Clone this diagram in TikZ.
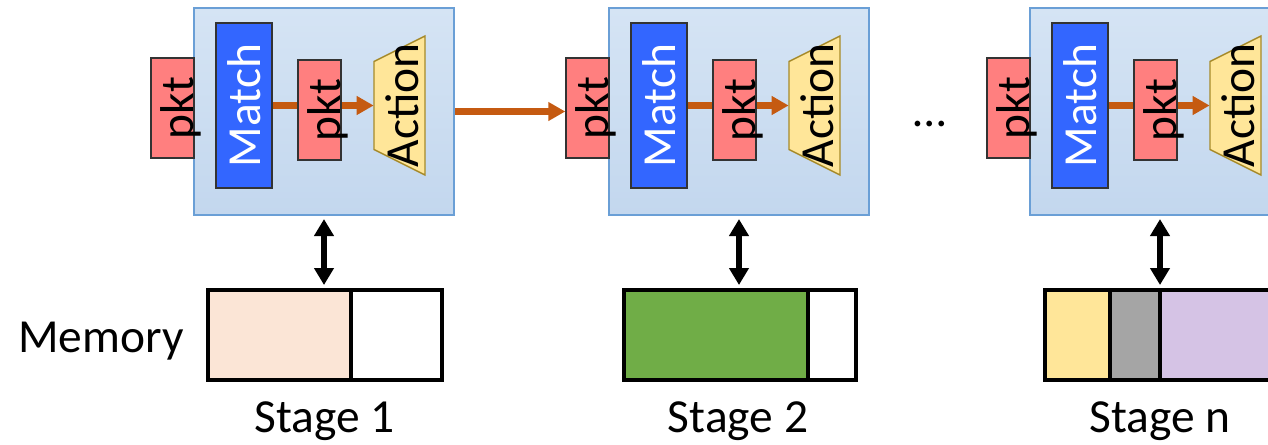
\documentclass[tikz,border=0pt]{standalone}
\usepackage{fontspec}
\setmainfont{Carlito}
\usetikzlibrary{arrows.meta, positioning, calc}
\definecolor{boxtop}{HTML}{D5E4F4}
\definecolor{boxbot}{HTML}{C3D7EE}
\definecolor{stageline}{HTML}{6A9FD6}
\definecolor{darkline}{HTML}{333333}
\definecolor{pktred}{HTML}{FF7F7F}
\definecolor{matchblue}{HTML}{3366FF}
\definecolor{actyellow}{HTML}{FFE699}
\definecolor{actline}{HTML}{A68A2A}
\definecolor{floworange}{HTML}{C55A11}
\definecolor{peach}{HTML}{FBE5D6}
\definecolor{memgreen}{HTML}{70AD47}
\definecolor{memgray}{HTML}{A5A5A5}
\definecolor{memlilac}{HTML}{D5C3E5}
\newcommand{\vtag}[2][0pt]{\makebox[0pt]{\hspace{#1}\rotatebox{90}{#2}}}

\begin{document}
\begin{tikzpicture}[
    font=\fontsize{27}{32}\selectfont,
    stagebox/.style={rectangle, draw=stageline, line width=1.2pt, top color=boxtop,
                     bottom color=boxbot, minimum width=5.2cm, minimum height=4.14cm},
    pktbox/.style={rectangle, draw=darkline, line width=0.8pt, fill=pktred,
                   minimum width=0.86cm, minimum height=2cm, inner sep=0pt},
    matchbox/.style={rectangle, draw=darkline, line width=0.8pt, fill=matchblue, text=white,
                     minimum width=1.12cm, minimum height=3.3cm, inner sep=0pt},
    actshape/.style={draw=actline, line width=0.8pt, fill=actyellow},
    acttext/.style={rectangle, minimum width=1.02cm, minimum height=1.76cm, inner sep=0pt},
    flow/.style={-{Triangle[length=0.34cm, width=0.36cm]}, line width=3.5pt, color=floworange},
    access/.style={{Triangle[length=0.34cm, width=0.38cm]}-{Triangle[length=0.34cm, width=0.38cm]},
                   line width=3.6pt, shorten <=0.06cm, shorten >=0.1cm},
    memcell/.style={rectangle, draw, line width=2.4pt, minimum height=1.8cm,
                    outer sep=0pt, inner sep=0pt},
    stagelabel/.style={anchor=base, inner sep=0pt}
]
\useasboundingbox (0,0) rectangle (25.36,-8.88);
\clip (0,0) rectangle (25.36,-8.88);

% stage 1
\node[stagebox] (box1) at (6.48,-2.23) {};
\node[pktbox] (in1) at (3.45,-2.16) {\vtag[0.34cm]{pkt}};
\node[matchbox] (match1) at (4.88,-2.11) {\vtag{Match}};
\coordinate (act1c) at (7.99,-2.11);
\draw[actshape] ($(act1c)+(-0.51,-0.88)$) -- ($(act1c)+(-0.51,0.88)$)
    -- ($(act1c)+(0.51,1.39)$) -- ($(act1c)+(0.51,-1.39)$) -- cycle;
\node[acttext] (act1) at (act1c) {\vtag[0.12cm]{Action}};
\draw[flow] (match1) -- (act1);
\node[pktbox] (pkt1) at (6.39,-2.2) {\vtag[0.34cm]{pkt}};

% stage 2
\node[stagebox] (box2) at (14.78,-2.23) {};
\node[pktbox] (in2) at (11.75,-2.16) {\vtag[0.34cm]{pkt}};
\node[matchbox] (match2) at (13.18,-2.11) {\vtag{Match}};
\coordinate (act2c) at (16.29,-2.11);
\draw[actshape] ($(act2c)+(-0.51,-0.88)$) -- ($(act2c)+(-0.51,0.88)$)
    -- ($(act2c)+(0.51,1.39)$) -- ($(act2c)+(0.51,-1.39)$) -- cycle;
\node[acttext] (act2) at (act2c) {\vtag[0.12cm]{Action}};
\draw[flow] (match2) -- (act2);
\node[pktbox] (pkt2) at (14.69,-2.2) {\vtag[0.34cm]{pkt}};

\draw[flow] (box1.east) -- (box1.east -| in2.west);

\node[anchor=base] (dots) at (18.6,-2.52) {…};

% stage n
\node[stagebox] (boxn) at (23.2,-2.23) {};
\node[pktbox] (inn) at (20.17,-2.16) {\vtag[0.34cm]{pkt}};
\node[matchbox] (matchn) at (21.6,-2.11) {\vtag{Match}};
\coordinate (actnc) at (24.71,-2.11);
\draw[actshape] ($(actnc)+(-0.51,-0.88)$) -- ($(actnc)+(-0.51,0.88)$)
    -- ($(actnc)+(0.51,1.39)$) -- ($(actnc)+(0.51,-1.39)$) -- cycle;
\node[acttext] (actn) at (actnc) {\vtag[0.12cm]{Action}};
\draw[flow] (matchn) -- (actn);
\node[pktbox] (pktn) at (23.11,-2.2) {\vtag[0.34cm]{pkt}};

% memory
\node[anchor=base west, inner sep=0pt] (memlabel) at (0.36,-7.05) {Memory};
\node[memcell, fill=peach, minimum width=2.86cm] (mem1a) at (5.59,-6.7) {};
\node[memcell, fill=white, minimum width=1.82cm, right=0pt of mem1a] (mem1b) {};
\node[memcell, fill=memgreen, minimum width=3.68cm] (mem2a) at (14.32,-6.7) {};
\node[memcell, fill=white, minimum width=0.96cm, right=0pt of mem2a] (mem2b) {};
\node[memcell, fill=actyellow, minimum width=1.3cm] (memna) at (21.55,-6.7) {};
\node[memcell, fill=memgray, minimum width=1.0cm, right=0pt of memna] (memnb) {};
\node[memcell, fill=memlilac, minimum width=2.36cm, right=0pt of memnb] (memnc) {};

\draw[access] (box1.south) -- (box1.south |- mem1a.north);
\draw[access] (box2.south) -- (box2.south |- mem2a.north);
\draw[access] (boxn.south) -- (boxn.south |- memna.north);

\node[stagelabel] (lbl1) at (6.49,-8.64) {Stage 1};
\node[stagelabel] (lbl2) at (14.76,-8.64) {Stage 2};
\node[stagelabel] (lbln) at (23.2,-8.64) {Stage n};

\end{tikzpicture}
\end{document}
